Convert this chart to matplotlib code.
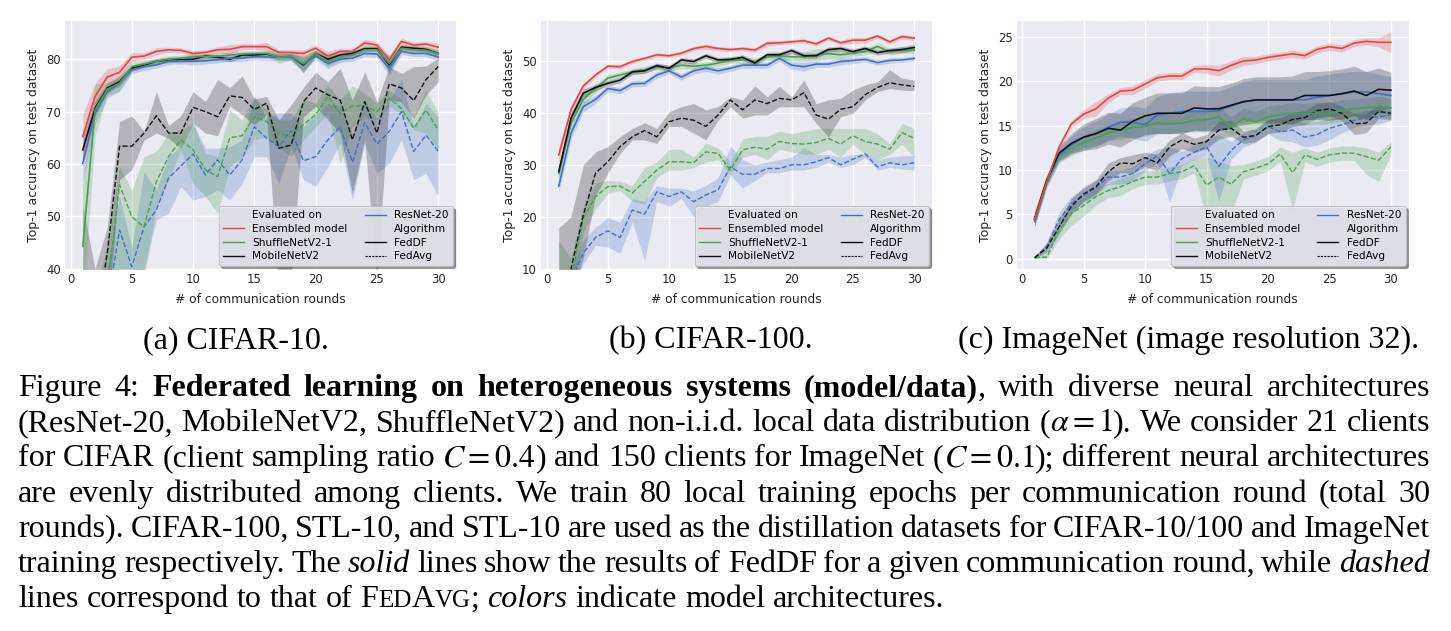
import numpy as np
import matplotlib
matplotlib.use("Agg")
import matplotlib.pyplot as plt
from matplotlib.lines import Line2D

rounds = np.arange(1, 31)

# ---- (a) CIFAR-10 ----
a_ens = [65.2, 72.9, 76.6, 77.5, 80.4, 80.6, 81.5, 81.8, 81.7, 81.1, 81.3, 81.8, 81.9, 82.4, 82.4, 82.4, 81.3, 81.3, 81.1, 82.1, 80.6, 81.5, 81.5, 83.1, 82.7, 79.9, 83.4, 82.7, 82.9, 82.3]
a_shuf = [44.3, 70.3, 74.3, 75.4, 78.6, 79.1, 79.6, 80.0, 80.2, 80.5, 80.5, 80.6, 80.8, 81.0, 81.1, 81.1, 80.4, 80.6, 79.2, 81.1, 79.6, 80.5, 80.8, 81.8, 81.8, 79.2, 82.1, 81.8, 81.7, 81.1]
a_mob = [62.7, 70.6, 74.5, 75.7, 78.3, 78.9, 79.6, 79.9, 79.9, 80.0, 80.6, 80.4, 80.0, 80.8, 80.8, 81.0, 80.4, 80.5, 78.9, 81.1, 80.0, 80.8, 81.1, 82.0, 82.0, 78.9, 82.3, 82.1, 81.9, 81.1]
a_res = [60.1, 69.7, 73.8, 75.4, 78.0, 78.6, 78.9, 79.6, 79.7, 79.6, 79.7, 79.9, 80.2, 80.2, 80.5, 80.4, 80.4, 80.4, 79.1, 80.6, 79.2, 80.0, 80.2, 81.1, 81.0, 78.3, 81.5, 81.1, 81.1, 80.4]
a_ens_sd = [4.3, 2.5, 1.6, 1.2, 0.9, 0.6, 0.7, 0.5, 0.5, 0.5, 0.5, 0.6, 0.9, 0.6, 0.5, 0.8, 0.5, 0.5, 0.7, 0.6, 0.9, 0.6, 0.5, 0.7, 0.6, 0.9, 0.6, 0.5, 0.5, 0.7]
a_shuf_sd = [12.0, 5.0, 1.2, 1.5, 0.8, 0.7, 0.6, 0.6, 0.6, 0.6, 0.5, 0.6, 0.6, 0.6, 0.5, 0.6, 1.2, 0.8, 1.5, 0.6, 1.0, 0.7, 0.6, 0.6, 0.6, 1.5, 0.6, 0.6, 0.6, 0.7]
a_mob_sd = [2.5, 1.5, 1.0, 0.8, 0.6, 0.5, 0.5, 0.5, 0.5, 0.5, 0.5, 0.5, 0.5, 0.5, 0.5, 0.5, 0.6, 0.6, 1.5, 0.6, 1.0, 0.6, 0.5, 0.5, 0.5, 1.5, 0.5, 0.5, 0.5, 0.6]
a_res_sd = [3.5, 2.0, 1.2, 1.5, 0.8, 0.7, 0.6, 0.6, 0.6, 0.7, 0.6, 0.6, 0.6, 0.6, 0.6, 0.6, 0.6, 0.6, 1.2, 0.6, 1.0, 0.6, 0.6, 0.6, 0.6, 1.5, 0.6, 0.6, 0.6, 0.7]

a_mob_avg = [30.0, 28.0, 43.0, 63.4, 63.4, 65.9, 69.2, 65.9, 65.9, 70.8, 70.0, 69.0, 73.0, 72.7, 70.4, 71.6, 63.0, 63.6, 71.9, 74.5, 73.2, 72.2, 64.6, 71.9, 65.9, 75.3, 74.5, 72.1, 76.1, 78.6]
a_mob_lo = [10.0, 15.0, 30.0, 57.0, 58.9, 64.6, 65.9, 64.9, 63.0, 67.8, 65.9, 65.4, 71.1, 69.4, 67.5, 69.4, 35.0, 38.0, 69.0, 71.0, 68.4, 65.9, 54.4, 64.6, 38.0, 72.2, 71.9, 68.7, 73.2, 75.7]
a_mob_hi = [52.0, 40.0, 48.0, 68.1, 69.2, 66.2, 73.8, 67.3, 69.2, 73.8, 71.9, 76.1, 74.6, 76.8, 72.4, 72.9, 68.4, 71.3, 74.6, 77.5, 75.7, 78.3, 72.2, 77.6, 71.9, 78.6, 77.3, 78.6, 78.7, 80.2]
a_shuf_avg = [20.0, 25.0, 36.0, 56.0, 49.9, 48.0, 56.6, 61.4, 64.6, 62.7, 58.9, 57.6, 65.0, 65.4, 69.0, 68.1, 65.9, 65.2, 67.5, 69.4, 72.9, 69.7, 71.1, 71.1, 70.0, 72.5, 70.6, 66.8, 70.3, 66.5]
a_shuf_lo = [10.0, 15.0, 28.0, 40.0, 40.0, 38.0, 51.8, 57.0, 62.7, 56.3, 53.8, 50.6, 59.5, 61.4, 64.6, 65.2, 63.3, 61.4, 64.6, 67.1, 69.7, 60.1, 67.1, 69.0, 68.4, 71.0, 69.7, 66.5, 65.9, 62.7]
a_shuf_hi = [30.0, 35.0, 45.0, 59.5, 55.0, 61.4, 62.4, 65.9, 66.5, 67.8, 62.0, 61.4, 70.3, 68.4, 72.9, 70.3, 68.4, 68.4, 72.2, 71.6, 75.1, 72.2, 74.9, 73.5, 71.6, 74.1, 72.2, 69.0, 74.1, 69.7]
a_res_avg = [20.0, 25.0, 33.0, 47.4, 40.4, 48.0, 51.2, 57.3, 59.6, 61.9, 57.9, 60.8, 57.9, 60.8, 67.1, 64.9, 63.3, 66.4, 60.6, 61.4, 64.6, 67.1, 60.3, 67.9, 63.8, 66.2, 70.0, 62.4, 65.5, 62.4]
a_res_lo = [10.0, 15.0, 25.0, 38.0, 35.0, 40.0, 49.3, 50.6, 55.7, 53.1, 53.8, 55.0, 53.1, 56.3, 61.4, 61.4, 56.3, 63.3, 57.0, 55.7, 59.5, 64.0, 53.1, 64.0, 58.2, 60.1, 64.6, 57.0, 58.2, 53.8]
a_res_hi = [30.0, 35.0, 40.0, 53.8, 44.0, 58.5, 55.0, 61.4, 63.3, 67.8, 63.0, 63.0, 63.3, 64.6, 72.9, 68.7, 69.7, 69.7, 67.1, 69.4, 71.6, 71.0, 65.9, 72.2, 68.4, 72.2, 76.1, 67.1, 71.6, 69.0]

# ---- (b) CIFAR-100 ----
b_ens = [31.9, 40.6, 45.2, 47.3, 49.0, 48.9, 49.9, 50.5, 51.2, 51.0, 51.5, 52.4, 52.8, 52.4, 52.2, 52.4, 52.1, 53.4, 53.5, 53.7, 53.9, 53.3, 54.4, 53.5, 54.0, 54.0, 54.8, 53.7, 54.7, 54.4]
b_shuf = [28.4, 38.0, 42.6, 44.7, 46.7, 47.3, 47.9, 48.3, 48.9, 48.6, 49.2, 49.0, 49.2, 49.6, 50.2, 50.2, 49.9, 50.8, 51.0, 50.8, 50.8, 51.2, 51.4, 51.2, 51.5, 51.8, 52.8, 51.8, 52.1, 52.1]
b_mob = [28.7, 39.0, 43.8, 44.9, 45.7, 46.3, 47.9, 48.1, 49.1, 48.6, 50.2, 49.9, 51.0, 50.2, 50.3, 50.7, 49.6, 51.2, 51.2, 52.0, 51.0, 51.0, 52.2, 52.4, 51.8, 52.4, 51.6, 52.0, 52.2, 52.6]
b_res = [25.9, 36.1, 41.2, 42.6, 44.7, 44.3, 45.6, 45.7, 47.3, 48.1, 46.9, 48.1, 48.6, 48.1, 48.6, 49.2, 49.2, 49.2, 50.5, 49.2, 48.9, 49.4, 49.4, 49.9, 50.1, 50.3, 49.7, 50.1, 50.2, 50.5]
b_ens_sd = [1.5, 1.0, 0.5, 0.4, 0.4, 0.4, 0.4, 0.4, 0.4, 0.4, 0.4, 0.4, 0.5, 0.4, 0.4, 0.4, 0.4, 0.5, 0.4, 0.4, 0.4, 0.4, 0.4, 0.4, 0.6, 0.5, 0.4, 0.4, 0.5, 0.4]
b_shuf_sd = [1.5, 1.2, 1.0, 0.8, 0.6, 0.6, 0.6, 0.6, 0.6, 0.6, 0.6, 0.6, 0.6, 0.6, 0.6, 0.6, 0.6, 0.6, 0.6, 0.7, 1.0, 1.2, 1.0, 0.8, 0.6, 0.6, 0.7, 0.6, 0.6, 0.6]
b_mob_sd = [1.2, 1.0, 0.8, 0.6, 0.5, 0.5, 0.5, 0.5, 0.5, 0.5, 0.5, 0.5, 0.5, 0.5, 0.5, 0.5, 0.5, 0.5, 0.5, 0.5, 0.5, 0.5, 0.5, 0.5, 0.5, 0.5, 0.5, 0.5, 0.6, 0.6]
b_res_sd = [1.2, 1.2, 1.0, 0.8, 0.6, 0.6, 0.6, 0.6, 0.6, 0.6, 0.6, 0.6, 0.6, 0.6, 0.6, 0.6, 0.6, 0.6, 0.6, 0.8, 0.8, 0.6, 0.6, 0.6, 0.6, 0.5, 0.5, 0.5, 0.5, 0.5]

b_mob_avg = [3.0, 10.0, 20.3, 28.4, 30.6, 33.5, 35.4, 36.6, 35.4, 38.3, 39.0, 38.6, 37.4, 39.6, 42.5, 40.6, 42.5, 41.8, 42.8, 42.5, 43.9, 39.6, 38.8, 40.7, 41.2, 43.5, 44.9, 45.8, 45.4, 45.1]
b_mob_lo = [0.0, 5.0, 12.0, 24.0, 28.4, 32.2, 34.8, 34.8, 34.1, 37.4, 37.4, 36.1, 34.8, 38.6, 41.2, 39.0, 39.6, 39.6, 41.2, 41.2, 41.2, 38.0, 35.4, 39.3, 39.9, 42.5, 44.1, 44.7, 44.4, 44.3]
b_mob_hi = [17.8, 20.0, 30.0, 32.5, 33.5, 35.4, 37.0, 38.1, 37.0, 40.2, 41.2, 41.8, 40.6, 41.2, 43.1, 42.5, 45.2, 43.1, 45.1, 43.1, 46.3, 41.8, 42.5, 42.8, 44.4, 45.4, 46.0, 48.3, 46.7, 46.3]
b_shuf_avg = [2.0, 8.0, 19.7, 23.9, 25.8, 25.9, 24.6, 26.8, 29.0, 30.6, 30.6, 30.4, 32.5, 32.2, 29.0, 32.9, 33.4, 33.0, 34.5, 34.1, 34.0, 34.3, 35.1, 34.0, 35.6, 34.5, 34.0, 33.0, 36.2, 35.1]
b_shuf_lo = [0.0, 3.0, 17.0, 21.5, 24.5, 25.0, 23.0, 22.5, 27.5, 29.0, 29.0, 29.5, 30.5, 31.0, 28.0, 31.5, 32.0, 31.0, 33.0, 32.5, 32.0, 32.0, 33.0, 31.5, 34.0, 32.0, 31.0, 32.0, 34.0, 31.5]
b_shuf_hi = [15.3, 12.0, 22.0, 26.5, 27.0, 26.8, 26.0, 29.5, 30.5, 33.0, 33.0, 31.5, 34.2, 33.2, 30.5, 35.0, 35.5, 35.5, 36.5, 36.0, 36.5, 37.0, 37.0, 37.0, 37.0, 37.0, 36.0, 34.0, 38.0, 37.0]
b_res_avg = [3.0, 8.0, 13.0, 16.0, 17.3, 16.0, 21.3, 20.5, 24.8, 23.9, 24.8, 22.9, 24.2, 25.2, 29.6, 28.2, 28.2, 29.3, 29.3, 30.0, 30.0, 30.6, 31.4, 30.0, 31.1, 32.1, 29.6, 30.4, 30.0, 30.4]
b_res_lo = [0.0, 5.0, 11.0, 14.5, 14.2, 13.0, 19.0, 11.5, 23.0, 22.0, 23.5, 20.0, 22.0, 23.0, 28.0, 25.5, 27.0, 28.5, 28.5, 29.0, 29.0, 29.5, 30.5, 29.5, 30.0, 31.5, 29.0, 29.5, 29.2, 29.0]
b_res_hi = [8.0, 10.0, 15.5, 18.0, 19.8, 19.0, 23.5, 23.0, 26.0, 25.5, 25.5, 25.0, 26.0, 27.5, 33.7, 31.0, 30.0, 30.5, 31.0, 31.5, 33.3, 32.0, 32.0, 31.5, 32.0, 32.2, 31.0, 31.5, 31.7, 31.8]

# ---- (c) ImageNet 32 ----
c_ens = [4.4, 8.7, 12.6, 15.2, 16.3, 16.9, 18.1, 18.9, 19.0, 19.7, 20.4, 20.6, 20.6, 21.4, 21.4, 21.2, 21.8, 22.3, 22.4, 22.7, 22.9, 23.1, 22.9, 23.6, 23.9, 23.7, 24.3, 24.5, 24.4, 24.4]
c_shuf = [4.2, 8.5, 11.5, 12.4, 13.1, 13.6, 14.2, 14.5, 14.8, 14.9, 15.3, 15.2, 15.3, 15.6, 15.7, 16.0, 14.9, 15.8, 15.4, 16.0, 16.2, 16.4, 16.3, 16.4, 16.4, 16.7, 16.9, 17.0, 17.2, 17.0]
c_mob = [4.5, 8.9, 11.9, 13.0, 13.7, 14.1, 14.7, 14.5, 15.5, 16.1, 16.4, 16.4, 16.4, 17.0, 16.9, 16.9, 17.3, 17.7, 17.9, 17.9, 17.9, 17.9, 18.4, 18.4, 18.4, 18.6, 18.9, 18.4, 19.1, 19.0]
c_res = [4.4, 8.7, 11.7, 12.8, 13.7, 14.1, 14.8, 15.4, 15.4, 15.1, 16.2, 16.4, 16.6, 16.6, 16.6, 16.7, 17.2, 17.7, 17.9, 17.9, 17.9, 17.9, 17.9, 18.2, 18.4, 18.6, 18.8, 18.8, 18.6, 18.4]
c_ens_sd = [0.5, 0.4, 0.4, 0.4, 0.5, 0.8, 0.5, 0.4, 0.5, 0.5, 0.4, 0.4, 0.4, 0.4, 0.5, 0.6, 0.5, 0.5, 0.4, 0.4, 0.4, 0.4, 0.4, 0.4, 0.4, 0.4, 0.4, 0.4, 0.5, 1.2]
c_shuf_sd = [0.6, 0.5, 0.7, 0.8, 0.9, 0.9, 0.9, 1.0, 1.1, 1.1, 1.1, 1.1, 1.1, 1.2, 1.2, 1.2, 1.1, 1.2, 1.2, 1.2, 1.2, 1.2, 1.2, 1.2, 1.2, 1.2, 1.1, 1.1, 1.1, 1.1]
c_mob_sd = [0.8, 0.5, 0.8, 1.1, 1.5, 1.7, 1.8, 1.9, 2.1, 2.1, 2.3, 2.3, 2.3, 2.5, 2.5, 2.5, 2.5, 2.6, 2.6, 2.6, 2.6, 2.7, 2.7, 2.7, 2.8, 2.8, 2.8, 2.7, 2.4, 2.0]
c_res_sd = [0.8, 0.5, 0.8, 1.0, 1.2, 1.4, 1.5, 1.6, 1.8, 1.9, 2.1, 2.3, 2.3, 2.3, 2.3, 2.2, 2.2, 2.3, 2.3, 2.3, 2.3, 2.3, 2.3, 2.4, 2.4, 2.4, 2.3, 2.3, 2.2, 2.1]

c_mob_avg = [0.1, 1.2, 3.6, 5.9, 7.3, 8.1, 9.8, 10.8, 10.7, 11.4, 10.8, 12.6, 13.4, 12.9, 13.2, 14.5, 14.7, 13.7, 13.9, 14.9, 15.1, 15.7, 15.9, 16.7, 16.9, 16.4, 15.2, 15.3, 16.6, 16.4]
c_mob_lo = [0.0, 0.7, 2.8, 5.0, 6.5, 7.3, 8.8, 9.7, 9.6, 10.4, 9.9, 11.6, 12.4, 12.0, 12.4, 13.5, 13.8, 13.0, 13.2, 14.1, 14.3, 14.9, 15.1, 15.9, 16.1, 15.6, 14.0, 14.2, 15.8, 15.7]
c_mob_hi = [0.2, 1.7, 4.4, 6.8, 8.1, 8.9, 10.8, 11.4, 11.7, 12.0, 11.8, 13.4, 14.2, 13.6, 14.0, 15.5, 15.6, 14.4, 14.6, 15.7, 15.9, 16.5, 16.7, 17.5, 17.7, 17.2, 16.4, 16.4, 17.4, 17.1]
c_shuf_avg = [0.1, 0.2, 3.2, 5.1, 6.0, 7.0, 7.7, 8.1, 8.7, 9.2, 9.2, 9.6, 9.8, 10.5, 8.3, 9.2, 8.4, 9.8, 10.2, 10.7, 11.8, 9.7, 11.7, 11.2, 11.7, 11.9, 11.9, 11.5, 11.1, 12.6]
c_shuf_lo = [0.0, 0.0, 2.2, 3.8, 4.8, 6.0, 6.9, 7.1, 7.9, 8.4, 8.4, 8.8, 9.0, 9.7, 4.5, 6.0, 5.0, 9.0, 9.4, 9.9, 11.0, 5.5, 10.9, 10.4, 10.9, 11.1, 11.1, 9.5, 8.7, 11.8]
c_shuf_hi = [0.2, 0.6, 4.0, 6.0, 7.0, 8.0, 8.5, 9.1, 9.5, 10.0, 10.0, 10.4, 10.6, 11.3, 11.5, 11.0, 10.5, 10.6, 11.0, 11.5, 12.6, 12.0, 12.5, 12.0, 12.5, 12.7, 12.7, 12.5, 12.0, 13.2]
c_res_avg = [0.1, 1.4, 4.4, 6.2, 7.1, 8.0, 9.2, 9.2, 9.6, 10.7, 11.6, 9.6, 11.3, 12.0, 12.6, 10.4, 12.2, 13.4, 13.9, 14.9, 14.3, 14.5, 13.7, 14.0, 14.7, 15.1, 15.6, 15.9, 16.0, 16.2]
c_res_lo = [0.0, 0.9, 3.6, 5.4, 6.3, 7.2, 8.4, 8.4, 8.8, 9.9, 10.8, 6.3, 10.5, 11.2, 11.6, 6.5, 11.2, 12.6, 13.1, 14.1, 13.3, 13.2, 12.6, 12.8, 13.4, 14.2, 14.8, 15.1, 15.2, 15.6]
c_res_hi = [0.2, 1.9, 5.2, 7.0, 7.9, 8.8, 10.0, 10.0, 10.4, 11.5, 12.4, 12.6, 12.1, 12.8, 13.5, 14.0, 13.2, 14.2, 14.7, 15.7, 15.6, 15.8, 15.3, 15.5, 15.8, 16.0, 16.4, 16.7, 16.8, 16.8]

RED = "#e0474c"
GREEN = "#4aa04f"
BLUE = "#4470c4"
BLACK = "#111111"

W, H = 1451, 631

plt.rcParams.update({
    "font.family": ["DejaVu Sans"],
    "mathtext.fontset": "stix",
    "axes.facecolor": "#EAEAF2",
    "axes.edgecolor": "white",
    "axes.grid": True,
    "grid.color": "white",
    "grid.linewidth": 1.0,
    "axes.labelcolor": "#262626",
    "xtick.color": "#262626",
    "ytick.color": "#262626",
})

fig = plt.figure(figsize=(W / 100, H / 100), dpi=100)


def px_rect(x0, x1, y0, y1):
    return [x0 / W, 1 - y1 / H, (x1 - x0) / W, (y1 - y0) / H]


def draw_panel(rect, ylim, yticks, feddf, fedavg):
    ax = fig.add_axes(rect)
    for mean, lo, hi, col in fedavg:
        ax.fill_between(rounds, lo, hi, color=col, alpha=0.25, lw=0)
        ax.plot(rounds, mean, color=col, lw=1.0, ls="--")
    for mean, sd, col in feddf:
        m = np.array(mean)
        s = np.array(sd)
        ax.fill_between(rounds, m - s, m + s, color=col, alpha=0.25, lw=0)
        ax.plot(rounds, m, color=col, lw=1.2)
    ax.set_xlim(-0.45, 31.45)
    ax.set_ylim(*ylim)
    ax.set_xticks([0, 5, 10, 15, 20, 25, 30])
    ax.set_yticks(yticks)
    ax.tick_params(length=0, labelsize=8.4, pad=3)
    for sp in ax.spines.values():
        sp.set_visible(False)
    ax.set_axisbelow(True)
    ax.set_xlabel("# of communication rounds", fontsize=8.8, labelpad=5)
    ax.set_ylabel("Top-1 accuracy on test dataset", fontsize=9.0, labelpad=4)
    blank = Line2D([], [], color="none")
    handles = [blank,
               Line2D([], [], color=RED, lw=1.0),
               Line2D([], [], color=GREEN, lw=1.0),
               Line2D([], [], color=BLACK, lw=1.0),
               Line2D([], [], color=BLUE, lw=1.0),
               blank,
               Line2D([], [], color=BLACK, lw=1.0),
               Line2D([], [], color=BLACK, lw=0.8, ls="--", dashes=(2, 1))]
    labels = ["Evaluated on", "Ensembled model", "ShuffleNetV2-1", "MobileNetV2",
              "ResNet-20", "Algorithm", "FedDF", "FedAvg"]
    leg = ax.legend(handles, labels, ncol=2, loc="lower right", fontsize=7.6,
                    frameon=True, shadow=True, fancybox=True, framealpha=0.85,
                    facecolor="#EAEAF2", edgecolor="#bbbbbb",
                    borderaxespad=0.3, handlelength=2.0, columnspacing=1.6,
                    labelspacing=0.35, borderpad=0.4)
    leg.get_frame().set_linewidth(0.8)
    return ax


draw_panel(px_rect(65, 456, 21, 268.7), (40, 87.3), [40, 50, 60, 70, 80],
           [(a_mob, a_mob_sd, BLACK), (a_res, a_res_sd, BLUE),
            (a_shuf, a_shuf_sd, GREEN), (a_ens, a_ens_sd, RED)],
           [(a_res_avg, a_res_lo, a_res_hi, BLUE), (a_shuf_avg, a_shuf_lo, a_shuf_hi, GREEN),
            (a_mob_avg, a_mob_lo, a_mob_hi, BLACK)])
draw_panel(px_rect(541, 932, 21, 268.7), (10, 57.7), [10, 20, 30, 40, 50],
           [(b_res, b_res_sd, BLUE), (b_shuf, b_shuf_sd, GREEN),
            (b_mob, b_mob_sd, BLACK), (b_ens, b_ens_sd, RED)],
           [(b_res_avg, b_res_lo, b_res_hi, BLUE), (b_shuf_avg, b_shuf_lo, b_shuf_hi, GREEN),
            (b_mob_avg, b_mob_lo, b_mob_hi, BLACK)])
draw_panel(px_rect(1016.7, 1408.7, 21, 268.7), (-1.13, 26.8), [0, 5, 10, 15, 20, 25],
           [(c_shuf, c_shuf_sd, GREEN), (c_res, c_res_sd, BLUE),
            (c_mob, c_mob_sd, BLACK), (c_ens, c_ens_sd, RED)],
           [(c_shuf_avg, c_shuf_lo, c_shuf_hi, GREEN), (c_res_avg, c_res_lo, c_res_hi, BLUE),
            (c_mob_avg, c_mob_lo, c_mob_hi, BLACK)])

SERIF = "Liberation Serif"


def style(st, size):
    kw = dict(family=SERIF, fontsize=size, color="black", va="baseline", ha="left")
    if st == "b":
        kw["weight"] = "bold"
    elif st == "i":
        kw["style"] = "italic"
    elif st == "sc":
        kw["fontsize"] = size * 0.78
    return kw


def split_words(segs):
    words = [[]]
    for txt, st in segs:
        parts = txt.split(" ")
        for i, p in enumerate(parts):
            if i > 0:
                words.append([])
            if p:
                words[-1].append((p, st))
    return [w for w in words if w]


def caption_line(segs, y, size, x0=18, x1=1430, justify=True):
    r = fig.canvas.get_renderer()
    items = []
    for w in split_words(segs):
        frags = []
        for p, st in w:
            t = fig.text(0, 1 - y / H, p, **style(st, size))
            frags.append((t, t.get_window_extent(r).width))
        items.append(frags)
    total = sum(wd for f in items for _, wd in f)
    space = size * 0.25 * 100 / 72
    gap = (x1 - x0 - total) / (len(items) - 1) if justify else space
    x = x0
    for frags in items:
        for t, wd in frags:
            t.set_x(x / W)
            x += wd
        x += gap
    return x - gap


caption = [
    [("Figure 4: ", "r"), ("Federated learning on heterogeneous systems (model/data)", "b"),
     (", with diverse neural architectures", "r")],
    [("(ResNet-20, MobileNetV2, ShuffleNetV2) and non-i.i.d. local data distribution (", "r"),
     (r"$\alpha=1$", "r"), ("). We consider 21 clients", "r")],
    [("for CIFAR (client sampling ratio ", "r"), (r"$C=0.4$", "r"),
     (") and 150 clients for ImageNet (", "r"), (r"$C=0.1$", "r"),
     ("); different neural architectures", "r")],
    [("are evenly distributed among clients.  We train 80 local training epochs per communication round (total 30", "r")],
    [("rounds). CIFAR-100, STL-10, and STL-10 are used as the distillation datasets for CIFAR-10/100 and ImageNet", "r")],
    [("training respectively. The ", "r"), ("solid", "i"),
     (" lines show the results of FedDF for a given communication round, while ", "r"), ("dashed", "i")],
    [("lines correspond to that of ", "r"), ("F", "r"), ("ED", "sc"), ("A", "r"), ("VG", "sc"),
     ("; ", "r"), ("colors", "i"), (" indicate model architectures.", "r")],
]

# size the serif text so the unjustified last line ends where it does in the paper
probe = fig.text(0, 0, "", **style("r", 20.0))
r = fig.canvas.get_renderer()
natural = 0.0
for w in split_words(caption[-1]):
    for p, st in w:
        probe.set_text(p)
        probe.set_fontsize(20.0 * (0.78 if st == "sc" else 1.0))
        probe.set_fontstyle("italic" if st == "i" else "normal")
        natural += probe.get_window_extent(r).width
natural += (len(split_words(caption[-1])) - 1) * 20.0 * 0.25 * 100 / 72
probe.remove()
CAP_SIZE = 20.0 * (945 - 18) / natural

sub_caps = [("(a) CIFAR-10.", 236), ("(b) CIFAR-100.", 711), ("(c) ImageNet (image resolution 32).", 1189)]
for txt, cx in sub_caps:
    fig.text(cx / W, 1 - 348 / H, txt, ha="center", va="baseline",
             family=SERIF, fontsize=CAP_SIZE, color="black")

for i, segs in enumerate(caption):
    caption_line(segs, 396 + 35.2 * i, CAP_SIZE, justify=(i < len(caption) - 1))

fig.savefig("out.png", dpi=100)
